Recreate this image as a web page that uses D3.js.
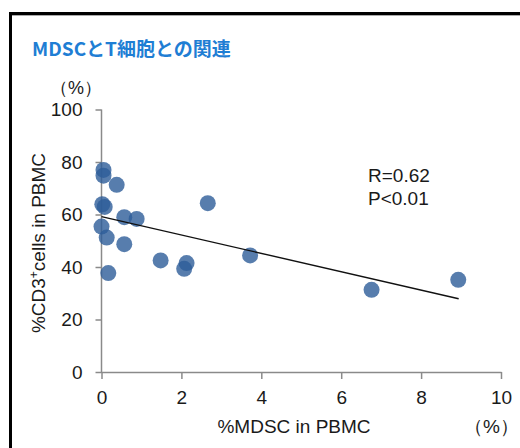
<!DOCTYPE html>
<html>
<head>
<meta charset="utf-8">
<script src="https://cdn.jsdelivr.net/npm/d3@7"></script>
<style>
  body { margin: 0; background: #fff; }
  svg { display: block; }
  .tick text { font-family: "Liberation Sans", Arial, sans-serif; font-size: 19px; fill: #1a1a1a; }
  .lbl { font-family: "Liberation Sans", Arial, sans-serif; font-size: 19px; fill: #1a1a1a; }
</style>
</head>
<body>
<div id="chart"></div>
<script>
// %MDSC in PBMC vs %CD3+ cells in PBMC
const mdsc = [0.05, 0.05, 0.38, 0.02, 0.08, 0.57, 0.88, 0.0, 0.13, 0.57, 0.17, 2.66, 1.48, 2.13, 2.07, 3.72, 6.76, 8.93];
const cd3  = [77.0, 74.8, 71.3, 63.9, 62.9, 59.0, 58.3, 55.4, 51.2, 48.7, 37.7, 64.3, 42.5, 41.5, 39.3, 44.4, 31.3, 35.1];
const trendX = [0, 8.94];
const trendY = [59.2, 27.9];
const xTicks = [0, 2, 4, 6, 8, 10];
const yTicks = [0, 20, 40, 60, 80, 100];

const width = 520, height = 448;
const margin = { top: 109.5, right: 19, bottom: 76, left: 101.5 };

const svg = d3.select("#chart").append("svg").attr("width", width).attr("height", height);

// frame (left + top border)
svg.append("path")
  .attr("d", "M10.5,448 L10.5,13.5 L520,13.5")
  .attr("fill", "none")
  .attr("stroke", "#000")
  .attr("stroke-width", 3);
svg.append("line")
  .attr("x1", 12).attr("x2", 520).attr("y1", 15.5).attr("y2", 15.5)
  .attr("stroke", "#aaa").attr("stroke-width", 1);

svg.append("text")
  .attr("x", 32).attr("y", 56)
  .attr("font-family", "'Noto Sans CJK JP', sans-serif")
  .attr("font-weight", "bold")
  .attr("font-size", 19)
  .attr("fill", "#1f7ed4")
  .text("MDSCとT細胞との関連");

const x = d3.scaleLinear().domain([0, 10]).range([margin.left, width - margin.right]);
const y = d3.scaleLinear().domain([0, 100]).range([height - margin.bottom, margin.top]);

const xAxis = svg.append("g")
  .attr("transform", `translate(0,${y(0)})`)
  .call(d3.axisBottom(x).tickValues(xTicks).tickSize(7).tickPadding(12).tickSizeOuter(0));
const yAxis = svg.append("g")
  .attr("transform", `translate(${x(0)},0)`)
  .call(d3.axisLeft(y).tickValues(yTicks).tickSize(6).tickPadding(13).tickSizeOuter(0));

[xAxis, yAxis].forEach(g => {
  g.select(".domain").attr("stroke", "#8a8a8a").attr("stroke-width", 1.5);
  g.selectAll(".tick line").attr("stroke", "#8a8a8a").attr("stroke-width", 1.5);
});
yAxis.select(".domain").attr("d", `M0,${y(100)}V${y(0) + 1}`);

// points
svg.append("g").selectAll("circle")
  .data(mdsc.map((v, i) => [v, cd3[i]]))
  .enter().append("circle")
  .attr("cx", d => x(d[0]))
  .attr("cy", d => y(d[1]))
  .attr("r", 8)
  .attr("fill", "#2d5c99")
  .attr("opacity", 0.8);

// regression line
svg.append("line")
  .attr("x1", x(trendX[0])).attr("y1", y(trendY[0]))
  .attr("x2", x(trendX[1])).attr("y2", y(trendY[1]))
  .attr("stroke", "#111")
  .attr("stroke-width", 1.4);

svg.append("text").attr("class", "lbl").attr("x", 368).attr("y", 182).text("R=0.62");
svg.append("text").attr("class", "lbl").attr("x", 368).attr("y", 205).text("P<0.01");

svg.append("text").attr("class", "lbl")
  .attr("x", 76).attr("y", 94).attr("text-anchor", "middle")
  .style("font-size", "18px")
  .text("（%）");
svg.append("text").attr("class", "lbl")
  .attr("x", 519).attr("y", 433).attr("text-anchor", "end")
  .text("（%）");

svg.append("text").attr("class", "lbl")
  .attr("x", 294).attr("y", 433).attr("text-anchor", "middle")
  .text("%MDSC in PBMC");

svg.append("text").attr("class", "lbl")
  .attr("transform", "rotate(-90)")
  .attr("x", -243).attr("y", 45)
  .attr("text-anchor", "middle")
  .html("%CD3<tspan baseline-shift='super' font-size='12'>+</tspan>cells in PBMC");
</script>
</body>
</html>
